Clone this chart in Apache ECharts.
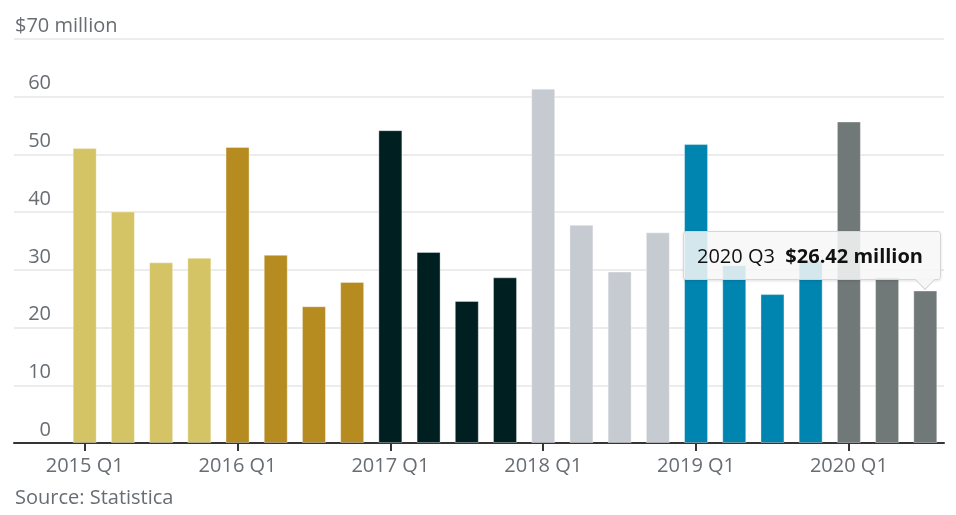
<!DOCTYPE html>
<html>
<head>
<meta charset="utf-8">
<script src="https://cdn.jsdelivr.net/npm/echarts@6/dist/echarts.min.js"></script>
<style>
html,body{margin:0;padding:0;background:#fff;}
#main{width:956px;height:515px;}
</style>
</head>
<body>
<div id="main"></div>
<script>
const categories = ['2015 Q1','2015 Q2','2015 Q3','2015 Q4','2016 Q1','2016 Q2','2016 Q3','2016 Q4','2017 Q1','2017 Q2','2017 Q3','2017 Q4','2018 Q1','2018 Q2','2018 Q3','2018 Q4','2019 Q1','2019 Q2','2019 Q3','2019 Q4','2020 Q1','2020 Q2','2020 Q3'];
const values = [51.1, 40.1, 31.3, 32.1, 51.3, 32.6, 23.7, 27.9, 54.2, 33.1, 24.6, 28.7, 61.4, 37.8, 29.7, 36.5, 51.8, 30.8, 25.8, 31.6, 55.7, 28.7, 26.42];
const yearColors = {'2015':'#d4c465','2016':'#b68b20','2017':'#001f21','2018':'#c6cbd1','2019':'#0085b0','2020':'#707878'};
const yTicks = [0, 10, 20, 30, 40, 50, 60, 70];
const highlightIndex = 22;

const textGray = '#676d73';
const font = 'Open Sans';

const chart = echarts.init(document.getElementById('main'));
chart.setOption({
  animation: false,
  grid: [
    {left: 14, right: 12, top: 39, bottom: 72},
    {left: 65.6, right: 11.6, top: 39, bottom: 72}
  ],
  xAxis: [
    {gridIndex: 0, type: 'value', min: 0, max: 1, axisLabel: {show: false}, axisTick: {show: false}, splitLine: {show: false},
     axisLine: {show: true, lineStyle: {color: '#353535', width: 2}}},
    {gridIndex: 1, type: 'category', data: categories,
     axisLine: {show: false},
     axisTick: {show: true, alignWithLabel: true, length: 8, interval: (i) => i % 4 === 0, lineStyle: {color: '#353535', width: 2}},
     axisLabel: {interval: (i) => i % 4 === 0, margin: 13, color: textGray, fontFamily: font, fontSize: 20}}
  ],
  yAxis: [
    {gridIndex: 0, type: 'value', min: yTicks[0], max: yTicks[yTicks.length - 1], interval: 10,
     axisLine: {show: false}, axisTick: {show: false},
     splitLine: {show: true, lineStyle: {color: '#e6e6e6', width: 1.5}},
     axisLabel: {inside: true, margin: 1, align: 'left', verticalAlign: 'bottom', padding: [0, 0, 3, 0],
       color: textGray, fontFamily: font, fontSize: 20,
       formatter: (v) => v === 70 ? '{t|$70 million}' : '{n|' + v + '}',
       rich: {n: {width: 36, align: 'right', color: textGray, fontFamily: font, fontSize: 20},
              t: {color: textGray, fontFamily: font, fontSize: 20}}}},
    {gridIndex: 1, type: 'value', min: 0, max: 70, show: false, splitLine: {show: false}}
  ],
  tooltip: {
    trigger: 'item',
    alwaysShowContent: true,
    transitionDuration: 0,
    showDelay: 0,
    backgroundColor: 'rgba(247,247,247,0.86)',
    borderColor: '#d6d6d6',
    borderWidth: 1,
    padding: [11, 17, 11, 13],
    extraCssText: 'box-shadow:0 1px 3px rgba(0,0,0,0.12);border-radius:3px;',
    position: function () { return [683, 231]; },
    formatter: function (p) {
      return '<div style="font-family:Open Sans;font-size:20px;line-height:25px;color:#111;white-space:nowrap;">' +
        p.name + '&nbsp;&nbsp;<b style="font-weight:700;">$' + p.value.toFixed(2) + ' million</b></div>' +
        '<div style="position:absolute;left:234px;bottom:-8px;width:13px;height:13px;transform:rotate(45deg);' +
        'background:rgba(247,247,247,0.95);border-right:1px solid #d6d6d6;border-bottom:1px solid #d6d6d6;"></div>';
    }
  },
  series: [{
    type: 'bar',
    xAxisIndex: 1,
    yAxisIndex: 1,
    data: values,
    barWidth: 24,
    emphasis: {disabled: true},
    itemStyle: {
      color: (p) => yearColors[categories[p.dataIndex].slice(0, 4)],
      borderColor: 'rgba(255,255,255,0.35)',
      borderWidth: 1
    }
  }],
  graphic: [{
    type: 'text', left: 15, top: 488,
    style: {text: 'Source: Statistica', fill: textGray, font: '20px "Open Sans"'}
  }]
});
chart.dispatchAction({type: 'showTip', seriesIndex: 0, dataIndex: highlightIndex});
</script>
</body>
</html>
